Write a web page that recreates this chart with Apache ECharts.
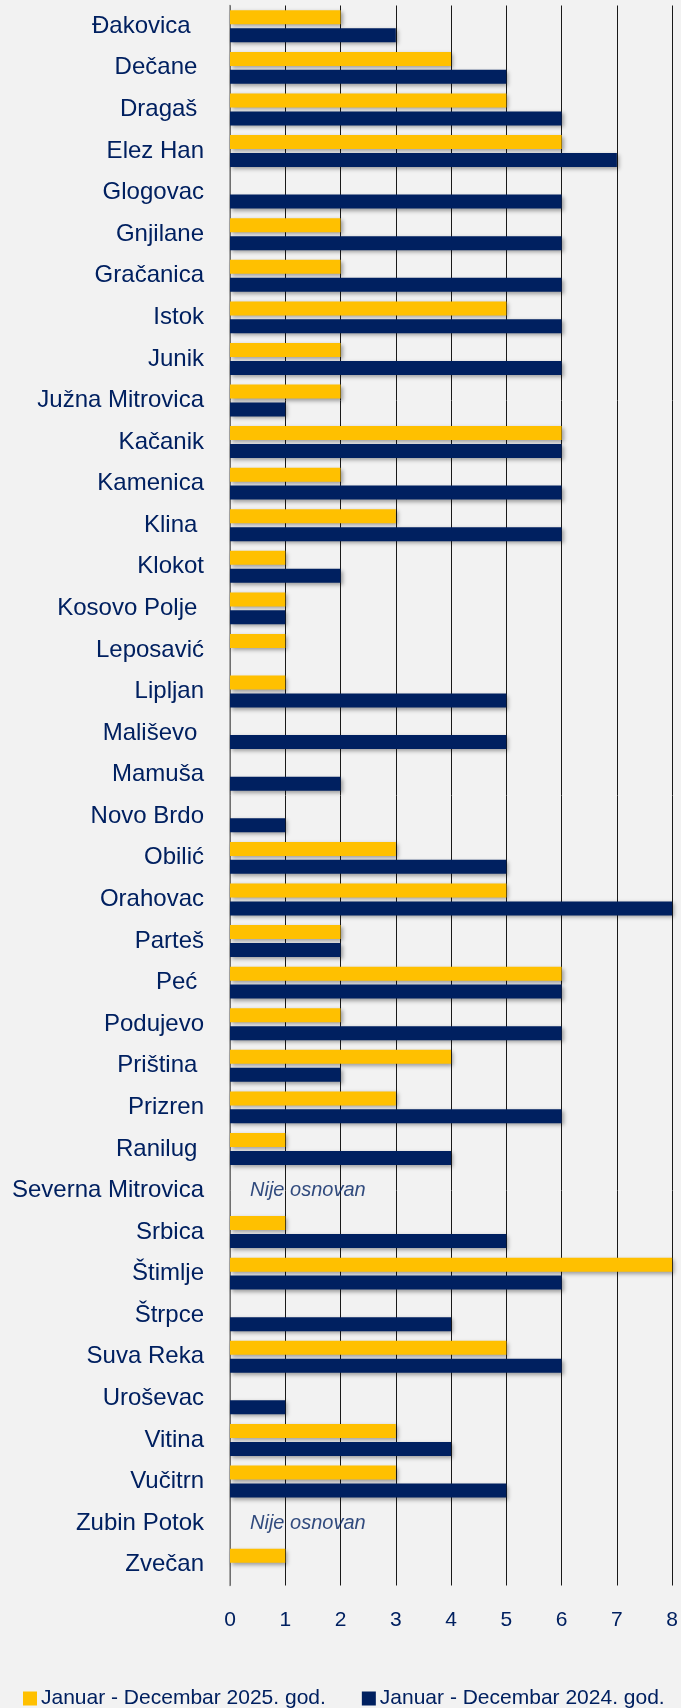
<!DOCTYPE html>
<html>
<head>
<meta charset="utf-8">
<script src="https://cdn.jsdelivr.net/npm/echarts@6/dist/echarts.min.js"></script>
<style>
  html, body { margin: 0; padding: 0; background: #f2f2f2; }
  #chart { width: 681px; height: 1708px; }
</style>
</head>
<body>
<div id="chart"></div>
<script>
// opštine (trailing spaces as in the source labels)
const municipalities = [
  'Đakovica  ', 'Dečane ', 'Dragaš ', 'Elez Han', 'Glogovac', 'Gnjilane', 'Gračanica',
  'Istok', 'Junik', 'Južna Mitrovica', 'Kačanik', 'Kamenica', 'Klina ', 'Klokot',
  'Kosovo Polje ', 'Leposavić', 'Lipljan', 'Mališevo ', 'Mamuša', 'Novo Brdo', 'Obilić',
  'Orahovac', 'Parteš', 'Peć ', 'Podujevo', 'Priština ', 'Prizren', 'Ranilug ',
  'Severna Mitrovica', 'Srbica', 'Štimlje', 'Štrpce', 'Suva Reka', 'Uroševac',
  'Vitina', 'Vučitrn', 'Zubin Potok', 'Zvečan'
];
const values2025 = [
  2, 4, 5, 6, 0, 2, 2, 5, 2, 2, 6, 2, 3, 1, 1, 1, 1, 0, 0, 0, 3,
  5, 2, 6, 2, 4, 3, 1, null, 1, 8, 0, 5, 0, 3, 3, null, 1
];
const values2024 = [
  3, 5, 6, 7, 6, 6, 6, 6, 6, 1, 6, 6, 6, 2, 1, 0, 5, 5, 2, 1, 5,
  8, 2, 6, 6, 2, 6, 4, null, 5, 6, 4, 6, 1, 4, 5, null, 0
];
const notFounded = ['Severna Mitrovica', 'Zubin Potok'];
const noteText = 'Nije osnovan';
const xTicks = [0, 1, 2, 3, 4, 5, 6, 7, 8];
const seriesNames = ['Januar - Decembar 2025. god.', 'Januar - Decembar 2024. god.'];

const navy = '#002060';
const yellow = '#FFC000';
const font = 'Liberation Sans';

const chart = echarts.init(document.getElementById('chart'));

const barShadow = {
  shadowColor: 'rgba(0,0,0,0.35)',
  shadowBlur: 4,
  shadowOffsetX: 2,
  shadowOffsetY: 2
};

const option = {
  backgroundColor: '#f2f2f2',
  animation: false,
  grid: { left: 230, right: 8, top: 5.5, height: 1580 },
  legend: {
    data: seriesNames,
    left: 18,
    top: 1683,
    itemWidth: 14,
    itemHeight: 14,
    itemGap: 36,
    icon: 'rect',
    textStyle: { color: navy, fontSize: 21, fontFamily: font, padding: [0, 0, 0, -1] }
  },
  xAxis: {
    type: 'value',
    min: xTicks[0],
    max: xTicks[xTicks.length - 1],
    interval: 1,
    axisLine: { show: false },
    axisTick: { show: false },
    axisLabel: { color: navy, fontSize: 21, fontFamily: font, margin: 24 },
    splitLine: { lineStyle: { color: '#1a1a1a', width: 1 } }
  },
  yAxis: {
    type: 'category',
    inverse: true,
    data: municipalities,
    axisLine: { lineStyle: { color: '#8c8c8c', width: 1.5 } },
    axisTick: { show: false },
    axisLabel: { color: navy, fontSize: 24, fontFamily: font, margin: 26 }
  },
  series: [
    {
      name: seriesNames[0],
      type: 'bar',
      data: values2025,
      barWidth: 14,
      barGap: '28%',
      itemStyle: Object.assign({ color: yellow }, barShadow)
    },
    {
      name: seriesNames[1],
      type: 'bar',
      data: values2024,
      barWidth: 14,
      itemStyle: Object.assign({ color: navy }, barShadow)
    },
    {
      name: 'note',
      type: 'scatter',
      symbolSize: 0,
      silent: true,
      data: notFounded.map(function (m) { return [0, m]; }),
      label: {
        show: true,
        position: 'right',
        distance: 20,
        formatter: noteText,
        color: navy,
        fontSize: 20,
        fontStyle: 'italic',
        fontFamily: font
      }
    }
  ]
};

chart.setOption(option);
</script>
</body>
</html>
